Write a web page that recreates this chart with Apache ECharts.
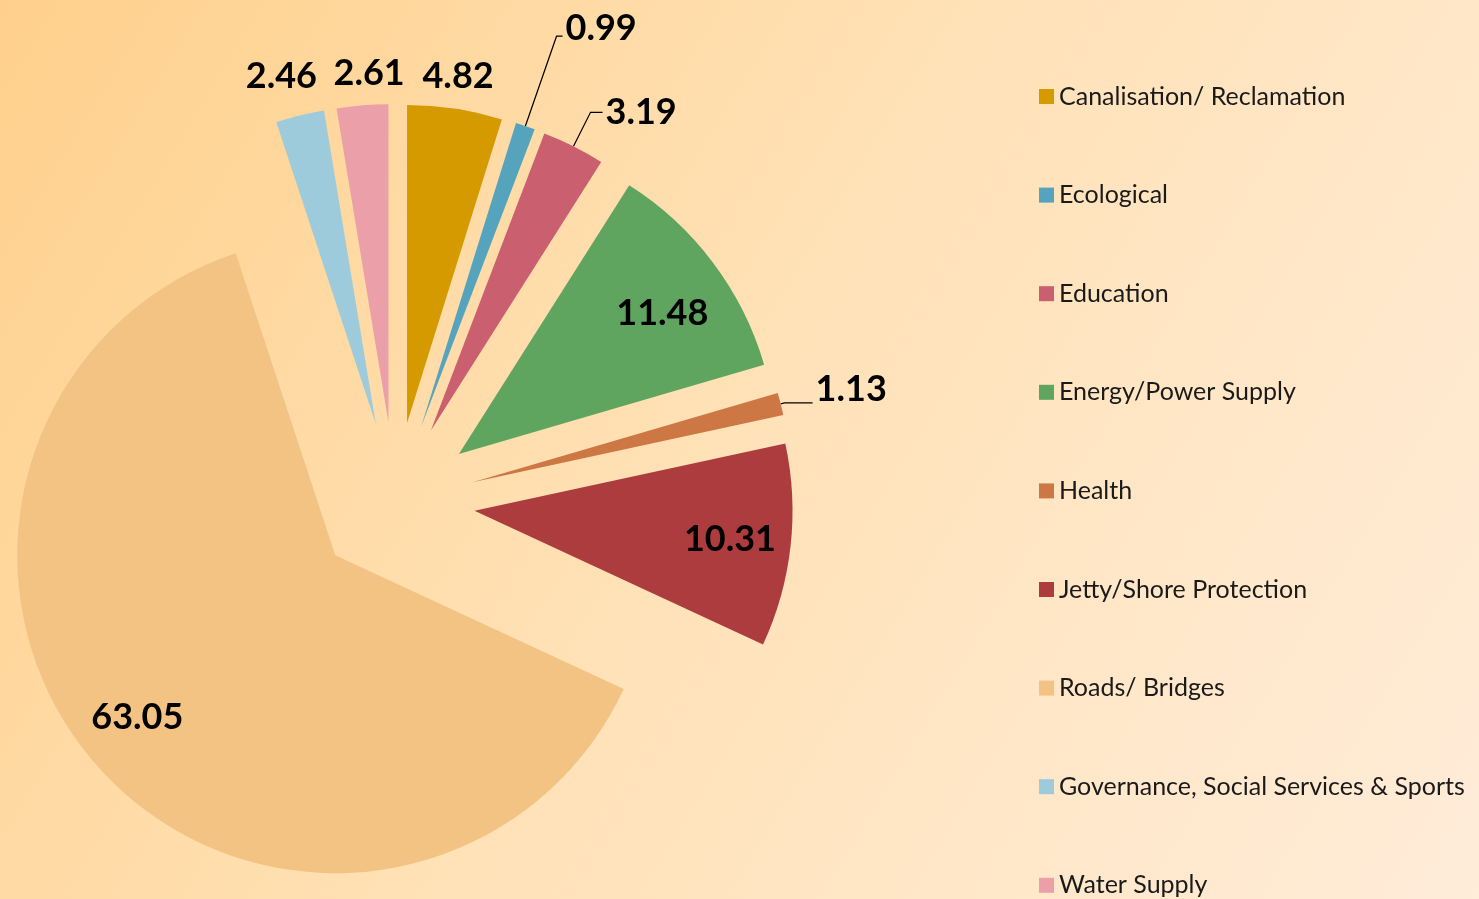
<!DOCTYPE html>
<html lang="en">
<head>
    <meta charset="UTF-8">
    <title>Projects by sector</title>
    <script src="https://cdn.jsdelivr.net/npm/echarts@6/dist/echarts.min.js"></script>
    <style>
        html, body { margin:0; padding:0; }
    </style>
</head>
<body>
    <div id="sectorPie" style="width:1479px;height:899px;"></div>
<script>
    // sectors, clockwise from 12 o'clock
    var sectors = ['Canalisation/ Reclamation', 'Ecological', 'Education', 'Energy/Power Supply',
        'Health', 'Jetty/Shore Protection', 'Roads/ Bridges',
        'Governance, Social Services & Sports', 'Water Supply'];
    var shares = [4.82, 0.99, 3.19, 11.48, 1.13, 10.31, 63.05, 2.46, 2.61];
    var colors = ['#d49a00', '#55a3bd', '#c95f6f', '#5fa55f', '#cd7745', '#ad3c3e', '#f3c384', '#9ecbdc', '#eba0a9'];

    // which label goes where
    var lineLabels = { 'Ecological': [95, 6], 'Education': [38, 12], 'Health': [4, 28] };
    var innerLabels = ['Energy/Power Supply', 'Jetty/Shore Protection', 'Roads/ Bridges'];
    var topLabels = ['Canalisation/ Reclamation', 'Governance, Social Services & Sports', 'Water Supply'];
    // labels that sit a bit above the end of their leader line (bottom padding of the text token)
    var raisedLabels = { 'Ecological': 16, 'Health': 28 };
    // small nudges [dx, dy] for the labels without leader lines
    var labelNudge = {
        'Energy/Power Supply': [-2, 14],
        'Roads/ Bridges': [-6, -9],
        'Governance, Social Services & Sports': [-9, 0],
        'Water Supply': [10, 8],
        'Canalisation/ Reclamation': [-3, 7]
    };

    var labelFont = {
        formatter: '{c}',
        color: '#000',
        fontFamily: 'Lato',
        fontWeight: 'bold',
        fontSize: 36
    };

    var pieCenter = [395, 502];
    var pieR = 318;
    var explode = 80;

    function mainData() {
        return sectors.map(function (name, i) {
            var item = { name: name, value: shares[i], selected: true, itemStyle: { color: colors[i] } };
            if (lineLabels[name]) {
                item.label = { show: true, position: 'outside' };
                if (raisedLabels[name]) {
                    item.label.formatter = '{v|{c}}';
                    item.label.rich = {
                        v: {
                            color: '#000', fontFamily: 'Lato', fontWeight: 'bold', fontSize: 36,
                            padding: [0, 0, raisedLabels[name], 0]
                        }
                    };
                }
                item.labelLine = { show: true, length: lineLabels[name][0], length2: lineLabels[name][1] };
            }
            return item;
        });
    }

    // transparent copy of the pie, only used to hold labels at a given radius
    function ghost(radius, which) {
        return {
            type: 'pie',
            center: pieCenter,
            radius: radius,
            startAngle: 90,
            selectedMode: 'multiple',
            selectedOffset: explode,
            silent: true,
            avoidLabelOverlap: false,
            labelLayout: function (p) {
                var n = labelNudge[sectors[p.dataIndex]] || [0, 0];
                return { dx: n[0], dy: n[1], hideOverlap: false };
            },
            itemStyle: { color: 'rgba(0,0,0,0)' },
            emphasis: { disabled: true },
            label: Object.assign({ position: 'inside' }, labelFont),
            labelLine: { show: false },
            data: sectors.map(function (name, i) {
                return {
                    name: name, value: shares[i], selected: true,
                    label: { show: which.indexOf(name) > -1 }
                };
            })
        };
    }

    var e_pie = echarts.init(document.getElementById('sectorPie'));

    var options = {
        backgroundColor: {
            type: 'linear', x: 0, y: 0, x2: 1, y2: 1,
            colorStops: [
                { offset: 0, color: '#ffd08c' },
                { offset: 0.5, color: '#ffe2b8' },
                { offset: 1, color: '#ffecd9' }
            ]
        },
        animation: false,
        legend: {
            orient: 'vertical',
            left: 1039,
            top: 84,
            height: 860,
            padding: 0,
            itemWidth: 15,
            itemHeight: 15,
            itemGap: 73.6,
            icon: 'rect',
            selectedMode: false,
            data: sectors,
            textStyle: { color: '#1a1a1a', fontFamily: 'Lato', fontSize: 25, lineHeight: 24 }
        },
        series: [
            {
                name: 'Sector',
                type: 'pie',
                center: pieCenter,
                radius: pieR,
                startAngle: 90,
                selectedMode: 'multiple',
                selectedOffset: explode,
                avoidLabelOverlap: false,
                labelLayout: { hideOverlap: false },
                emphasis: { disabled: true },
                itemStyle: { borderWidth: 0 },
                label: Object.assign({ show: false, alignTo: 'none', distanceToLabelLine: 3 }, labelFont),
                labelLine: { show: false, lineStyle: { color: '#000', width: 1.2 } },
                data: mainData()
            },
            ghost([190, pieR], innerLabels),
            ghost([pieR, 392], topLabels)
        ]
    };
    e_pie.setOption(options);
</script>
</body>
</html>
